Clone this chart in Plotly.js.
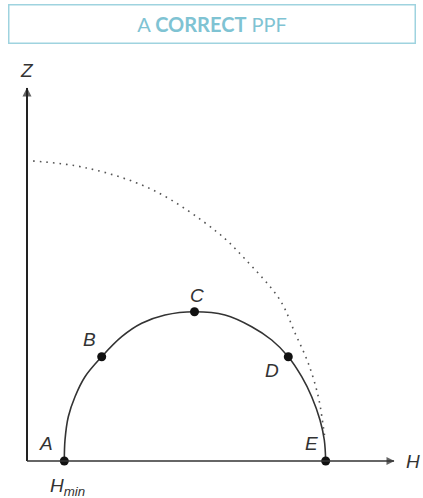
<!DOCTYPE html>
<html>
<head>
<meta charset="utf-8">
<script src="https://cdn.plot.ly/plotly-3.0.1.min.js"></script>
<style>html,body{margin:0;padding:0;background:#fff;}#chart{width:423px;height:498px;}</style>
</head>
<body>
<div id="chart"></div>
<script>
// PPF curve (solid): H (horizontal good), Z (vertical good)
const ppfH = [3.73, 3.8, 4.13, 4.8, 5.8, 7.47, 9.47, 11.47, 13.8, 16.75, 19.8, 22.47, 24.47, 26.13, 27.47, 28.47, 29.3, 29.73, 29.87];
const ppfZ = [0, 2.1, 4.43, 6.43, 8.43, 10.43, 12.43, 13.77, 14.6, 14.93, 14.6, 13.43, 12.1, 10.43, 8.43, 6.43, 4.1, 2.1, 0];
// labelled points
const pointNames = ["A", "B", "C", "D", "E"];
const pointH = [3.73, 7.47, 16.75, 26.13, 29.87];
const pointZ = [0, 10.43, 14.93, 10.43, 0];
// dotted frontier
const dotH = [0.6, 6.0, 12.6, 19.0, 21.8, 25.3, 26.8, 28.13, 29.13, 29.63, 29.75];
const dotZ = [30.0, 29.3, 27.1, 22.9, 20.2, 16.1, 12.8, 9.77, 6.43, 3.43, 2.6];
// axis extents and labels
const axisTopZ = 37.7;
const axisRightH = 37.1;
const axisNames = ["Z", "H"];
const hminLabel = "<i>H</i><sub><i>min</i></sub>";
const titleText = "A <b>CORRECT</b> PPF";

const labelFont = {family: "Liberation Sans, Arial, sans-serif", size: 19, color: "#333"};
const labelOffsets = [[-1.8, 1.8], [-1.2, 1.7], [0.2, 1.6], [-1.6, -1.4], [-1.4, 1.8]];

const traces = [
  {x: dotH, y: dotZ, mode: "lines", line: {color: "#555", width: 1.6, dash: "1.6px,5px", shape: "spline"}, hoverinfo: "skip"},
  {x: ppfH, y: ppfZ, mode: "lines", line: {color: "#333", width: 1.6, shape: "spline", smoothing: 1}, hoverinfo: "skip"},
  {x: pointH, y: pointZ, mode: "markers", marker: {color: "#111", size: 9}, cliponaxis: false, hoverinfo: "skip"},
  // arrow heads at the ends of the two axes
  {x: [0, axisRightH - 0.35], y: [axisTopZ - 0.35, 0], mode: "markers", cliponaxis: false, hoverinfo: "skip",
   marker: {symbol: ["arrow-up", "arrow-right"], size: [9, 8], color: "#222", line: {width: 0}}}
];

const shapes = [
  {type: "line", xref: "x", yref: "y", x0: 0, y0: 0, x1: 0, y1: axisTopZ - 0.4, line: {color: "#222", width: 2}},
  {type: "line", xref: "x", yref: "y", x0: 0, y0: 0, x1: axisRightH - 0.4, y1: 0, line: {color: "#333", width: 1.7}}
];

const annotations = [];
pointNames.forEach((n, i) => {
  annotations.push({x: pointH[i] + labelOffsets[i][0], y: pointZ[i] + labelOffsets[i][1], xref: "x", yref: "y",
    text: "<i>" + n + "</i>", showarrow: false, font: labelFont});
});
annotations.push({x: 0, y: axisTopZ + 1.4, xref: "x", yref: "y", text: "<i>" + axisNames[0] + "</i>", showarrow: false, font: labelFont});
annotations.push({x: axisRightH + 1.5, y: 0, xref: "x", yref: "y", text: "<i>" + axisNames[1] + "</i>", showarrow: false, font: labelFont});
annotations.push({x: (67 - 22) / 401, y: (466 - 487) / 418, xref: "paper", yref: "paper", xanchor: "center", yanchor: "middle",
  text: hminLabel, showarrow: false, font: labelFont});
// title box
annotations.push({xref: "paper", yref: "paper", x: (212 - 22) / 401, y: (466 - 24) / 418, xanchor: "center", yanchor: "middle",
  text: titleText, showarrow: false, width: 405, height: 37, borderpad: 0, borderwidth: 1.5, bordercolor: "#9fd3df",
  font: {family: "Lato, Open Sans, sans-serif", size: 20, color: "#7fc3d3"}});

const layout = {
  width: 423, height: 498,
  margin: {l: 22, r: 0, t: 48, b: 32},
  paper_bgcolor: "#fff", plot_bgcolor: "#fff",
  showlegend: false,
  xaxis: {range: [-0.5, 39.6], visible: false, fixedrange: true},
  yaxis: {range: [-0.5, 41.3], visible: false, fixedrange: true},
  shapes: shapes,
  annotations: annotations
};

Plotly.newPlot("chart", traces, layout, {displayModeBar: false, staticPlot: true});
</script>
</body>
</html>
